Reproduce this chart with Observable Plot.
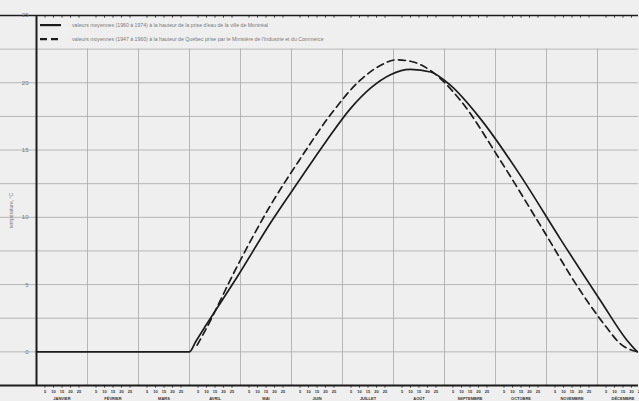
<!DOCTYPE html>
<html>
<head>
<meta charset="utf-8">
<script src="https://cdn.jsdelivr.net/npm/d3@7"></script>
<script src="https://cdn.jsdelivr.net/npm/@observablehq/plot@0.6"></script>
<style>
  html, body { margin: 0; padding: 0; background: #efefef; }
  #chart { width: 639px; height: 401px; overflow: hidden; }
  #chart svg { display: block; }
</style>
</head>
<body>
<div id="chart"></div>
<script>
// Mois (axe horizontal) et repères de jours à l'intérieur de chaque mois
const months = ["JANVIER", "FÉVRIER", "MARS", "AVRIL", "MAI", "JUIN", "JUILLET", "AOÛT", "SEPTEMBRE", "OCTOBRE", "NOVEMBRE", "DÉCEMBRE"];
const dayTicks = [5, 10, 15, 20, 25];

// Axe vertical : température en °C
const yTicks = [0, 5, 10, 15, 20, 25];
const yGrid = [0, 2.5, 5, 7.5, 10, 12.5, 15, 17.5, 20, 22.5];

// Montréal, prise d'eau (1960 à 1974) : position en mois depuis le 1er janvier, température
const montrealMonth = [0, 1, 2, 3.0, 3.12, 3.31, 3.94, 4.59, 5.18, 5.67, 6.16, 6.55, 6.94, 7.33, 7.73, 8.12, 8.71, 9.49, 10.27, 11.06, 11.55, 11.78];
const montrealTemp  = [0, 0, 0, 0.0, 0.75, 1.9, 5.6, 9.6, 12.9, 15.6, 18.1, 19.6, 20.6, 21.0, 20.8, 19.8, 17.3, 13.1, 8.4, 3.8, 1.0, 0.0];

// Québec, Ministère de l'Industrie et du Commerce (1947 à 1960)
const quebecMonth = [3.15, 3.31, 3.94, 4.59, 5.18, 5.76, 6.35, 6.75, 7.04, 7.33, 7.73, 8.31, 9.10, 9.88, 10.67, 11.16, 11.45, 11.69, 11.84];
const quebecTemp  = [0.5, 1.6, 6.4, 10.9, 14.4, 17.6, 20.2, 21.3, 21.7, 21.6, 20.9, 18.7, 14.2, 9.4, 4.5, 1.9, 0.6, 0.1, 0.0];

const legendLabels = [
  "valeurs moyennes (1960 à 1974) à la hauteur de la prise d'eau de la ville de Montréal",
  "valeurs moyennes (1947 à 1960) à la hauteur de Québec prise par le Ministère de l'Industrie et du Commerce"
];
const legendDash = ["none", "7,4"];

const montreal = montrealMonth.map((m, i) => ({m, t: montrealTemp[i]}));
const quebec = quebecMonth.map((m, i) => ({m, t: quebecTemp[i]}));
const monthStarts = months.map((_, i) => i);
const dayPositions = months.flatMap((name, i) => dayTicks.map(d => ({m: i + d / 30, d})));

const ink = "#1c1c1c";
const gridColor = "#a8a8a8";
const textColor = "#7a7a7a";

// Légende dessinée dans la bande supérieure du cadre (22,5 à 25 °C)
function legendMark(index, scales) {
  const g = d3.create("svg:g").attr("text-anchor", "start");
  const yTop = scales.y(25), yBot = scales.y(22.5);
  const x0 = scales.x(0);
  legendLabels.forEach((label, i) => {
    const yy = yTop + (yBot - yTop) * (i === 0 ? 0.3 : 0.72);
    g.append("line")
      .attr("x1", x0 + 4).attr("x2", x0 + 25)
      .attr("y1", yy).attr("y2", yy)
      .attr("stroke", ink).attr("stroke-width", 2.2)
      .attr("stroke-dasharray", legendDash[i]);
    g.append("text")
      .attr("x", x0 + 36).attr("y", yy)
      .attr("dy", "0.35em")
      .attr("text-anchor", "start")
      .attr("fill", textColor)
      .attr("font-size", 5.2)
      .text(label);
  });
  return g.node();
}

const chart = Plot.plot({
  width: 639,
  height: 401,
  style: {background: "#efefef", fontFamily: "'Liberation Sans', Arial, sans-serif"},
  x: {domain: [0, 12], range: [36, 648], axis: null},
  y: {domain: [-2.5, 25], range: [385, 15], axis: null},
  marks: [
    // grille
    Plot.ruleY(yGrid, {stroke: gridColor, strokeWidth: 0.8}),
    Plot.ruleX(monthStarts.slice(1), {y1: -2.5, y2: 22.5, stroke: gridColor, strokeWidth: 0.8}),
    // repères de jours en haut et en bas du cadre
    Plot.ruleX(dayPositions, {x: "m", y1: 25, y2: 24.8, stroke: ink, strokeWidth: 0.8}),
    Plot.ruleX(dayPositions, {x: "m", y1: -2.5, y2: -2.7, stroke: ink, strokeWidth: 0.8}),
    // cadre
    Plot.ruleY([25], {stroke: ink, strokeWidth: 1.6}),
    Plot.ruleY([-2.5], {stroke: ink, strokeWidth: 2}),
    Plot.ruleX([0], {y1: -2.5, y2: 25, stroke: ink, strokeWidth: 2}),
    // étiquettes de l'axe vertical
    Plot.text(yTicks, {x: 0, y: d => d, text: d => String(d), dx: -8, textAnchor: "end", fontSize: 6, fill: textColor}),
    Plot.text(["température, °C"], {x: 0, y: 10.5, dx: -25, rotate: -90, fontSize: 5, fill: textColor}),
    // étiquettes de l'axe horizontal
    Plot.text(dayPositions, {x: "m", y: -2.5, text: d => String(d.d), dy: 6, fontSize: 4, fontWeight: "bold", fill: "#333"}),
    Plot.text(months, {x: (d, i) => i + 0.5, y: -2.5, text: d => d, dy: 13, fontSize: 4, fontWeight: "bold", fill: "#333"}),
    // courbes
    Plot.line(quebec, {x: "m", y: "t", stroke: ink, strokeWidth: 1.7, strokeDasharray: "7,4.5", curve: "monotone-x"}),
    Plot.line(montreal, {x: "m", y: "t", stroke: ink, strokeWidth: 1.7, curve: "monotone-x"}),
    legendMark
  ]
});

document.getElementById("chart").append(chart);
</script>
</body>
</html>
